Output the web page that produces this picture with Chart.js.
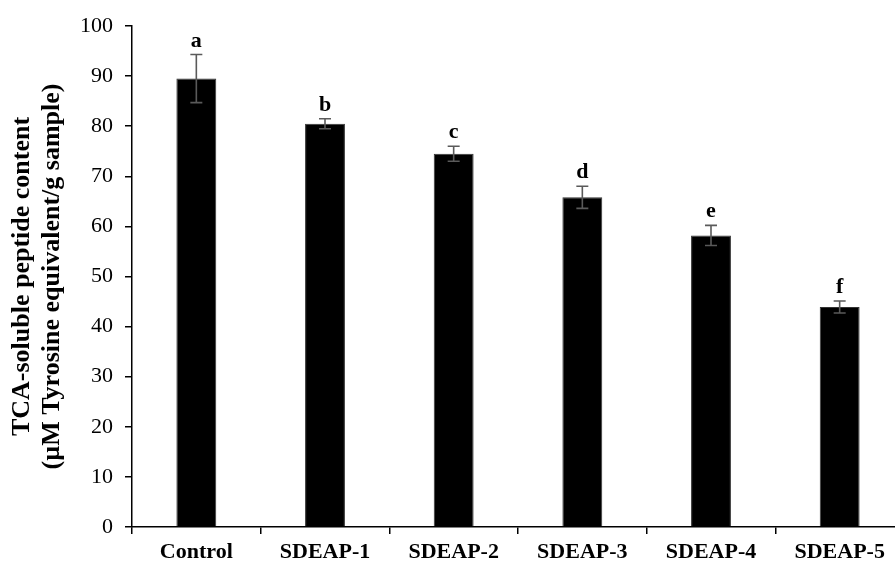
<!DOCTYPE html>
<html>
<head>
<meta charset="utf-8">
<script src="https://cdn.jsdelivr.net/npm/chart.js@4.4.0/dist/chart.umd.min.js"></script>
<style>
    html, body { margin: 0; padding: 0; background: #fff; overflow: hidden; }
    #wrap { position: relative; width: 904px; height: 565px; }
</style>
</head>
<body>
<div id="wrap"><canvas id="peptideChart"></canvas></div>
<script>
// --- Data ---
const categories = ['Control', 'SDEAP-1', 'SDEAP-2', 'SDEAP-3', 'SDEAP-4', 'SDEAP-5'];
const peptideContent = [89.5, 80.5, 74.5, 65.8, 58.2, 43.9];
const errorValues = [4.8, 1.0, 1.5, 2.2, 2.0, 1.2];
const groupLetters = ['a', 'b', 'c', 'd', 'e', 'f'];
const yTitleLines = ['TCA-soluble peptide content', '(\u00B5M Tyrosine equivalent/g sample)'];

const serif = '"Liberation Serif", "Times New Roman", serif';
Chart.defaults.font.family = serif;
Chart.defaults.color = '#000';

// error bars + significance letters drawn on top of the bars
const errorBarPlugin = {
    id: 'errorBars',
    afterDatasetsDraw(chart) {
        const { ctx, scales: { x, y } } = chart;
        ctx.save();
        peptideContent.forEach((v, i) => {
            const cx = x.getPixelForValue(i);
            const yTop = y.getPixelForValue(v + errorValues[i]);
            const yBot = y.getPixelForValue(v - errorValues[i]);
            ctx.strokeStyle = '#5a5a5a';
            ctx.lineWidth = 1.6;
            ctx.beginPath();
            ctx.moveTo(cx, yTop); ctx.lineTo(cx, yBot);
            ctx.moveTo(cx - 6, yTop); ctx.lineTo(cx + 6, yTop);
            ctx.moveTo(cx - 6, yBot); ctx.lineTo(cx + 6, yBot);
            ctx.stroke();

            ctx.fillStyle = '#000';
            ctx.font = 'bold 22px ' + serif;
            ctx.textAlign = 'center';
            ctx.textBaseline = 'alphabetic';
            ctx.fillText(groupLetters[i], cx, yTop - 8);
        });
        ctx.restore();
    }
};

new Chart(document.getElementById('peptideChart'), {
    type: 'bar',
    data: {
        labels: categories,
        datasets: [{
            data: peptideContent,
            backgroundColor: '#000',
            borderColor: '#333',
            borderWidth: 1,
            categoryPercentage: 1.0,
            barPercentage: 0.31
        }]
    },
    options: {
        responsive: true,
        maintainAspectRatio: false,
        animation: false,
        layout: { padding: { top: 26, right: 0, left: 0, bottom: 0 } },
        plugins: {
            legend: { display: false },
            tooltip: { enabled: false }
        },
        scales: {
            x: {
                grid: {
                    display: true,
                    drawOnChartArea: false,
                    drawTicks: true,
                    tickLength: 7,
                    color: '#000',
                    lineWidth: 1.5,
                    offset: true
                },
                border: { color: '#000', width: 1.5 },
                ticks: {
                    color: '#000',
                    font: { size: 22, weight: 'bold' },
                    padding: 5,
                    maxRotation: 0,
                    autoSkip: false
                },
                afterFit(scale) { scale.height = 38; }
            },
            y: {
                min: 0,
                max: 100,
                grid: {
                    drawOnChartArea: false,
                    drawTicks: true,
                    tickLength: 7,
                    color: '#000',
                    lineWidth: 1.5
                },
                border: { color: '#000', width: 1.5 },
                ticks: {
                    stepSize: 10,
                    color: '#000',
                    font: { size: 22 },
                    padding: 12
                },
                title: {
                    display: true,
                    text: yTitleLines,
                    color: '#000',
                    font: { size: 26, weight: 'bold', lineHeight: 1.15 },
                    padding: { top: 7, bottom: 0 }
                },
                afterFit(scale) { scale.width = 132; }
            }
        }
    },
    plugins: [errorBarPlugin]
});
</script>
</body>
</html>
